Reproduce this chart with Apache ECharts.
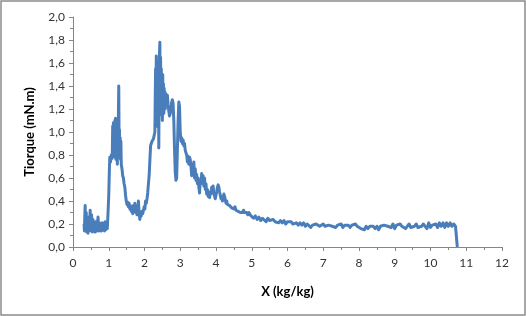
<!DOCTYPE html>
<html>
<head>
<meta charset="utf-8">
<script src="https://cdn.jsdelivr.net/npm/echarts@6/dist/echarts.min.js"></script>
<style>
  html, body { margin: 0; padding: 0; background: #fff; }
  #chart { width: 526px; height: 316px; }
</style>
</head>
<body>
<div id="chart"></div>
<script>
// X (kg/kg)
const xValues = [
  0.31, 0.32, 0.33, 0.34, 0.35, 0.37, 0.38, 0.40, 0.42, 0.44, 0.46, 0.48, 0.50, 0.52, 0.54, 0.56, 0.58, 0.60,
  0.62, 0.64, 0.66, 0.68, 0.70, 0.72, 0.74, 0.76, 0.78, 0.80, 0.82, 0.84, 0.86, 0.88, 0.90, 0.92, 0.94, 0.96,
  0.98, 1.00, 1.02, 1.03, 1.05, 1.07, 1.09, 1.10, 1.11, 1.12, 1.13, 1.14, 1.15, 1.16, 1.17, 1.18, 1.19, 1.20,
  1.21, 1.22, 1.23, 1.24, 1.25, 1.26, 1.27, 1.28, 1.29, 1.30, 1.31, 1.32, 1.33, 1.34, 1.35, 1.37, 1.39, 1.41,
  1.43, 1.45, 1.47, 1.49, 1.51, 1.53, 1.55, 1.57, 1.59, 1.61, 1.63, 1.65, 1.67, 1.69, 1.71, 1.73, 1.75, 1.77,
  1.79, 1.81, 1.83, 1.85, 1.87, 1.89, 1.91, 1.93, 1.95, 1.97, 1.99, 2.01, 2.03, 2.05, 2.07, 2.09, 2.11, 2.13,
  2.15, 2.17, 2.19, 2.21, 2.23, 2.25, 2.27, 2.29, 2.30, 2.31, 2.32, 2.33, 2.34, 2.35, 2.36, 2.37, 2.38, 2.39,
  2.40, 2.41, 2.42, 2.43, 2.44, 2.45, 2.46, 2.47, 2.48, 2.49, 2.50, 2.51, 2.52, 2.53, 2.54, 2.55, 2.56, 2.57,
  2.58, 2.60, 2.62, 2.64, 2.66, 2.68, 2.70, 2.72, 2.74, 2.76, 2.78, 2.80, 2.82, 2.84, 2.86, 2.88, 2.90, 2.92,
  2.94, 2.96, 2.98, 3.00, 3.02, 3.04, 3.06, 3.08, 3.10, 3.12, 3.14, 3.16, 3.18, 3.20, 3.22, 3.24, 3.26, 3.28,
  3.30, 3.32, 3.34, 3.36, 3.38, 3.40, 3.42, 3.44, 3.46, 3.48, 3.50, 3.52, 3.54, 3.56, 3.58, 3.60, 3.62, 3.64,
  3.66, 3.68, 3.70, 3.72, 3.74, 3.76, 3.78, 3.80, 3.82, 3.84, 3.86, 3.88, 3.90, 3.92, 3.94, 3.96, 3.98, 4.00,
  4.02, 4.04, 4.06, 4.08, 4.10, 4.12, 4.14, 4.16, 4.18, 4.20, 4.22, 4.24, 4.26, 4.28, 4.30, 4.32, 4.35, 4.38,
  4.41, 4.44, 4.47, 4.50, 4.53, 4.56, 4.59, 4.62, 4.65, 4.68, 4.71, 4.74, 4.77, 4.80, 4.83, 4.86, 4.89, 4.92,
  4.95, 4.98, 5.01, 5.05, 5.10, 5.15, 5.20, 5.25, 5.30, 5.35, 5.40, 5.45, 5.50, 5.55, 5.60, 5.65, 5.70, 5.75,
  5.80, 5.85, 5.90, 5.95, 6.00, 6.05, 6.10, 6.15, 6.20, 6.25, 6.30, 6.35, 6.40, 6.45, 6.50, 6.55, 6.60, 6.65,
  6.70, 6.75, 6.80, 6.85, 6.90, 6.95, 7.00, 7.05, 7.10, 7.15, 7.20, 7.25, 7.30, 7.35, 7.40, 7.45, 7.50, 7.55,
  7.60, 7.65, 7.70, 7.75, 7.80, 7.85, 7.90, 7.95, 8.00, 8.05, 8.10, 8.15, 8.20, 8.25, 8.30, 8.35, 8.40, 8.45,
  8.50, 8.55, 8.60, 8.65, 8.70, 8.75, 8.80, 8.85, 8.90, 8.95, 9.00, 9.05, 9.10, 9.15, 9.20, 9.25, 9.30, 9.35,
  9.40, 9.45, 9.50, 9.55, 9.60, 9.65, 9.70, 9.75, 9.80, 9.85, 9.90, 9.95, 10.00, 10.05, 10.10, 10.15, 10.20, 10.25,
  10.30, 10.35, 10.40, 10.45, 10.50, 10.55, 10.60, 10.65, 10.70, 10.74, 10.75
];

// Tiorque (mN.m)
const torque = [
  0.20, 0.14, 0.27, 0.36, 0.15, 0.30, 0.13, 0.22, 0.12, 0.26, 0.15, 0.32, 0.14, 0.28, 0.13, 0.24, 0.15, 0.20,
  0.13, 0.22, 0.14, 0.19, 0.26, 0.14, 0.21, 0.14, 0.19, 0.14, 0.21, 0.15, 0.20, 0.14, 0.22, 0.15, 0.18, 0.16,
  0.30, 0.45, 0.70, 0.78, 0.74, 0.80, 0.77, 0.82, 1.05, 0.78, 1.08, 0.80, 1.06, 0.85, 1.10, 0.82, 1.12, 0.76,
  1.05, 0.85, 1.10, 0.72, 1.00, 0.80, 1.15, 1.40, 0.85, 1.02, 0.78, 0.95, 0.76, 0.92, 0.72, 0.68, 0.62, 0.60,
  0.55, 0.52, 0.45, 0.40, 0.37, 0.39, 0.35, 0.38, 0.33, 0.36, 0.31, 0.35, 0.29, 0.36, 0.32, 0.38, 0.30, 0.34,
  0.28, 0.33, 0.40, 0.30, 0.24, 0.30, 0.27, 0.31, 0.29, 0.32, 0.35, 0.33, 0.40, 0.38, 0.42, 0.47, 0.55, 0.62,
  0.75, 0.88, 0.90, 0.92, 0.91, 0.94, 0.95, 1.00, 1.30, 1.55, 1.20, 1.66, 1.30, 1.62, 1.05, 1.50, 1.20, 1.58,
  0.86, 1.45, 1.70, 1.78, 1.30, 1.65, 1.15, 1.55, 1.20, 1.45, 1.10, 1.50, 1.18, 1.42, 1.16, 1.38, 1.22, 1.35,
  1.20, 1.33, 1.28, 1.32, 1.24, 1.18, 1.14, 1.16, 1.20, 1.26, 1.28, 1.25, 1.10, 0.85, 0.65, 0.58, 0.60, 0.85,
  1.10, 1.26, 1.22, 1.00, 0.92, 0.95, 0.90, 0.93, 0.88, 0.90, 0.84, 0.82, 0.80, 0.74, 0.79, 0.72, 0.78, 0.76,
  0.70, 0.62, 0.72, 0.66, 0.74, 0.60, 0.68, 0.58, 0.63, 0.55, 0.60, 0.52, 0.47, 0.58, 0.55, 0.64, 0.57, 0.62,
  0.53, 0.60, 0.50, 0.55, 0.46, 0.50, 0.44, 0.47, 0.43, 0.48, 0.46, 0.52, 0.50, 0.53, 0.47, 0.44, 0.42, 0.45,
  0.48, 0.52, 0.54, 0.52, 0.48, 0.45, 0.42, 0.44, 0.40, 0.42, 0.46, 0.44, 0.41, 0.38, 0.40, 0.37, 0.38, 0.36,
  0.37, 0.34, 0.35, 0.33, 0.35, 0.32, 0.33, 0.31, 0.32, 0.30, 0.31, 0.30, 0.32, 0.30, 0.29, 0.30, 0.28, 0.30,
  0.29, 0.27, 0.28, 0.25, 0.27, 0.24, 0.26, 0.23, 0.25, 0.24, 0.22, 0.25, 0.23, 0.22, 0.24, 0.22, 0.23, 0.21,
  0.23, 0.21, 0.23, 0.20, 0.22, 0.21, 0.22, 0.20, 0.19, 0.21, 0.19, 0.21, 0.19, 0.21, 0.18, 0.20, 0.19, 0.17,
  0.19, 0.18, 0.20, 0.21, 0.18, 0.19, 0.20, 0.18, 0.17, 0.19, 0.20, 0.18, 0.19, 0.17, 0.19, 0.18, 0.20, 0.17,
  0.19, 0.18, 0.19, 0.17, 0.19, 0.18, 0.20, 0.18, 0.19, 0.16, 0.17, 0.15, 0.18, 0.16, 0.18, 0.17, 0.18, 0.16,
  0.18, 0.15, 0.18, 0.17, 0.19, 0.20, 0.18, 0.19, 0.17, 0.20, 0.16, 0.19, 0.18, 0.20, 0.18, 0.19, 0.16, 0.18,
  0.20, 0.17, 0.16, 0.18, 0.20, 0.17, 0.16, 0.18, 0.20, 0.18, 0.16, 0.21, 0.17, 0.19, 0.18, 0.20, 0.17, 0.21,
  0.18, 0.21, 0.17, 0.21, 0.18, 0.21, 0.18, 0.20, 0.18, 0.19, 0.00
];

const xTitle = 'X (kg/kg)';
const yTitle = 'Tiorque (mN.m)';

const chart = echarts.init(document.getElementById('chart'));
const fontFamily = 'Lato, "Liberation Sans", sans-serif';
const axisGray = '#868686';

const option = {
  animation: false,
  textStyle: { fontFamily: fontFamily },
  graphic: [{
    type: 'rect',
    shape: { x: 1, y: 1, width: 524, height: 314 },
    style: { fill: 'none', stroke: '#8c8c8c', lineWidth: 1.5 },
    silent: true
  }],
  grid: {
    left: 73,
    right: 24,
    top: 17,
    bottom: 69
  },
  xAxis: {
    type: 'value',
    min: 0,
    max: 12,
    interval: 1,
    name: xTitle,
    nameLocation: 'middle',
    nameGap: 38,
    nameTextStyle: { fontWeight: 'bold', fontSize: 13, color: '#000', fontFamily: fontFamily },
    axisLine: { show: true, onZero: false, lineStyle: { color: axisGray, width: 1 } },
    axisTick: { show: true, length: 4, lineStyle: { color: axisGray } },
    minorTick: { show: true, splitNumber: 2, length: 3, lineStyle: { color: axisGray } },
    axisLabel: { color: '#333', fontSize: 12, margin: 10, fontFamily: fontFamily },
    splitLine: { show: false }
  },
  yAxis: {
    type: 'value',
    min: 0,
    max: 2,
    interval: 0.2,
    name: yTitle,
    nameLocation: 'middle',
    nameGap: 37,
    nameTextStyle: { fontWeight: 'bold', fontSize: 13, color: '#000', fontFamily: fontFamily },
    axisLine: { show: true, lineStyle: { color: axisGray, width: 1 } },
    axisTick: { show: true, length: 4, lineStyle: { color: axisGray } },
    minorTick: { show: true, splitNumber: 2, length: 3, lineStyle: { color: axisGray } },
    axisLabel: {
      color: '#333',
      fontSize: 12,
      margin: 8,
      fontFamily: fontFamily,
      formatter: v => v.toFixed(1).replace('.', ',')
    },
    splitLine: { show: false }
  },
  series: [{
    type: 'line',
    data: xValues.map((x, i) => [x, torque[i]]),
    showSymbol: false,
    sampling: null,
    lineStyle: { color: '#4a7ebb', width: 3, join: 'round' },
    itemStyle: { color: '#4a7ebb' }
  }]
};

chart.setOption(option);
</script>
</body>
</html>
